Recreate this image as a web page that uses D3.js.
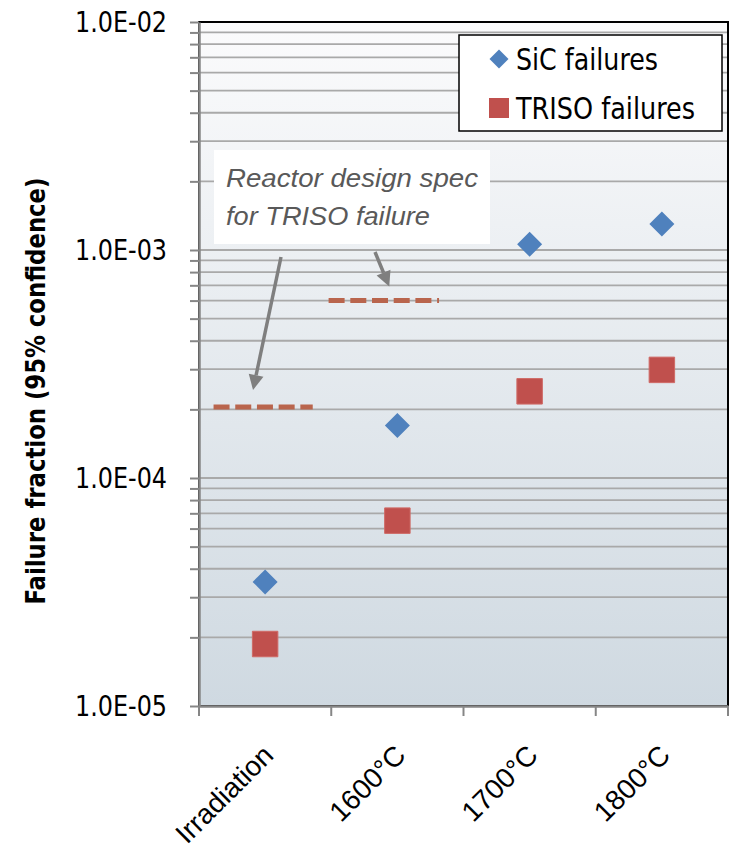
<!DOCTYPE html>
<html>
<head>
<meta charset="utf-8">
<script src="https://cdn.jsdelivr.net/npm/d3@7"></script>
<style>
  html, body { margin: 0; padding: 0; background: #fff; }
  svg { display: block; }
</style>
</head>
<body>
<svg id="chart" width="729" height="845"></svg>
<script>
// ---- data ----
const categories = ["Irradiation", "1600°C", "1700°C", "1800°C"];
const seriesNames = ["SiC failures", "TRISO failures"];
const sicValues = [3.5e-5, 1.7e-4, 1.06e-3, 1.3e-3];
const trisoValues = [1.87e-5, 6.5e-5, 2.4e-4, 2.98e-4];
const specCategories = ["Irradiation", "1600°C"];
const specValues = [2.05e-4, 6.0e-4];
const yTickValues = [1e-5, 1e-4, 1e-3, 1e-2];
const yTickLabels = ["1.0E-05", "1.0E-04", "1.0E-03", "1.0E-02"];
const yAxisTitle = "Failure fraction (95% confidence)";
const noteLines = ["Reactor design spec", "for TRISO failure"];

// ---- layout ----
const plot = { left: 199, right: 728, top: 22, bottom: 706 };
const sicColor = "#4f81bd";
const trisoColor = "#c0504d";
const specColor = "#b9654d";
const gridColor = "#a9a9a9";
const axisColor = "#868686";
const narrow = "'Liberation Sans Narrow', 'DejaVu Sans Condensed', 'Liberation Sans', sans-serif";
const regular = "'Liberation Sans', Arial, sans-serif";

const svg = d3.select("#chart");

const x = d3.scaleBand().domain(categories).range([plot.left, plot.right]).padding(0);
const y = d3.scaleLog().domain([1e-5, 1e-2]).range([plot.bottom, plot.top]);

// plot background gradient
const defs = svg.append("defs");
const grad = defs.append("linearGradient").attr("id", "bg")
  .attr("x1", 0).attr("y1", 0).attr("x2", 0).attr("y2", 1);
grad.append("stop").attr("offset", "0%").attr("stop-color", "#fbfbfc");
grad.append("stop").attr("offset", "100%").attr("stop-color", "#cfd9e1");

svg.append("rect")
  .attr("x", plot.left).attr("y", plot.top)
  .attr("width", plot.right - plot.left).attr("height", plot.bottom - plot.top)
  .attr("fill", "url(#bg)");

// gridlines at every major and minor decade step
const allTicks = y.ticks();
svg.append("g").selectAll("line")
  .data(allTicks.filter(t => t > 1e-5 && t < 1e-2))
  .join("line")
  .attr("x1", plot.left).attr("x2", plot.right)
  .attr("y1", d => y(d)).attr("y2", d => y(d))
  .attr("stroke", gridColor).attr("stroke-width", 1.8);

// plot border
svg.append("rect")
  .attr("x", plot.left).attr("y", plot.top)
  .attr("width", plot.right - plot.left).attr("height", plot.bottom - plot.top)
  .attr("fill", "none").attr("stroke", "#000").attr("stroke-width", 2);

// y axis
const majorLabel = new Map(yTickValues.map((v, i) => [v.toExponential(), yTickLabels[i]]));
const yAxis = d3.axisLeft(y)
  .tickValues(allTicks)
  .tickSize(9).tickSizeOuter(0).tickPadding(23)
  .tickFormat(d => majorLabel.get(d.toExponential()) || "");
const gy = svg.append("g").attr("transform", `translate(${plot.left},0)`).call(yAxis);
gy.select(".domain").attr("stroke", axisColor).attr("stroke-width", 2.5);
gy.selectAll(".tick line").attr("stroke", axisColor).attr("stroke-width", 2);
gy.selectAll(".tick text")
  .attr("fill", "#000")
  .style("font-family", narrow).style("font-size", "29px")
  .attr("textLength", function () { return this.textContent ? 92 : null; })
  .attr("lengthAdjust", "spacingAndGlyphs");

// x axis: line, boundary ticks and rotated category labels
const xAxis = d3.axisBottom(x).tickSize(0).tickSizeOuter(0).tickPadding(0);
const gx = svg.append("g").attr("transform", `translate(0,${plot.bottom})`).call(xAxis);
gx.select(".domain").attr("stroke", axisColor).attr("stroke-width", 2.5);
gx.selectAll(".tick text")
  .attr("fill", "#000")
  .style("font-family", regular).style("font-size", "28px")
  .attr("text-anchor", "end")
  .attr("dy", 0)
  .attr("transform", "translate(10,51) rotate(-45)");

const boundaries = categories.map(c => x(c)).concat([x.range()[1]]);
svg.append("g").selectAll("line")
  .data(boundaries).join("line")
  .attr("x1", d => d).attr("x2", d => d)
  .attr("y1", plot.bottom).attr("y2", plot.bottom + 10)
  .attr("stroke", axisColor).attr("stroke-width", 2);

// y axis title
svg.append("text")
  .attr("transform", `translate(45,${391}) rotate(-90)`)
  .attr("text-anchor", "middle")
  .style("font-family", narrow).style("font-size", "27px").style("font-weight", "bold")
  .attr("textLength", 427).attr("lengthAdjust", "spacingAndGlyphs")
  .text(yAxisTitle);

// design-spec dashed lines
const specSpan = [[0.11, 0.86], [-0.02, 0.815]];
svg.append("g").selectAll("line")
  .data(specCategories.map((c, i) => ({ c, v: specValues[i], s: specSpan[i] })))
  .join("line")
  .attr("x1", d => x(d.c) + d.s[0] * x.bandwidth())
  .attr("x2", d => x(d.c) + d.s[1] * x.bandwidth())
  .attr("y1", d => y(d.v)).attr("y2", d => y(d.v))
  .attr("stroke", specColor).attr("stroke-width", 5)
  .attr("stroke-dasharray", "16,5.7");

// annotation box, text and arrows
svg.append("rect")
  .attr("x", 214).attr("y", 150).attr("width", 276).attr("height", 94)
  .attr("fill", "#fff");
const noteWidths = [252, 204];
svg.append("g").selectAll("text")
  .data(noteLines).join("text")
  .attr("x", 226).attr("y", (d, i) => 187 + i * 38)
  .attr("fill", "#595959")
  .style("font-family", regular).style("font-size", "26px").style("font-style", "italic")
  .attr("textLength", (d, i) => noteWidths[i]).attr("lengthAdjust", "spacingAndGlyphs")
  .text(d => d);

function arrow(x1, y1, x2, y2) {
  const ang = Math.atan2(y2 - y1, x2 - x1);
  const len = 15, half = 7.5;
  const bx = x2 - len * Math.cos(ang), by = y2 - len * Math.sin(ang);
  svg.append("line")
    .attr("x1", x1).attr("y1", y1).attr("x2", bx).attr("y2", by)
    .attr("stroke", "#7f7f7f").attr("stroke-width", 3.5);
  const px = -Math.sin(ang) * half, py = Math.cos(ang) * half;
  svg.append("path")
    .attr("d", `M${x2},${y2}L${bx + px},${by + py}L${bx - px},${by - py}Z`)
    .attr("fill", "#7f7f7f");
}
arrow(281, 257, x(specCategories[0]) + 54, y(specValues[0]) - 17);
arrow(375, 252, x(specCategories[1]) + 58, y(specValues[1]) - 14);

// data markers
const cx = c => x(c) + x.bandwidth() / 2;
const diamond = d3.symbol().type(d3.symbolSquare).size(313);
const square = d3.symbol().type(d3.symbolSquare).size(650);

svg.append("g").selectAll("path")
  .data(categories.map((c, i) => ({ c, v: sicValues[i] })))
  .join("path")
  .attr("d", diamond)
  .attr("transform", d => `translate(${cx(d.c)},${y(d.v)}) rotate(45)`)
  .attr("fill", sicColor);

svg.append("g").selectAll("path")
  .data(categories.map((c, i) => ({ c, v: trisoValues[i] })))
  .join("path")
  .attr("d", square)
  .attr("transform", d => `translate(${cx(d.c)},${y(d.v)})`)
  .attr("fill", trisoColor).attr("stroke", "#cf6a66").attr("stroke-width", 1);

// legend
const lg = svg.append("g");
lg.append("rect")
  .attr("x", 459).attr("y", 35).attr("width", 263).attr("height", 96)
  .attr("fill", "#fff").attr("stroke", "#000").attr("stroke-width", 1.5);
const legendWidths = [142, 179];
const legendItems = seriesNames.map((n, i) => ({ n, i }));
lg.selectAll("path")
  .data(legendItems).join("path")
  .attr("d", d => d.i === 0 ? d3.symbol().type(d3.symbolSquare).size(180)() : d3.symbol().type(d3.symbolSquare).size(400)())
  .attr("transform", d => `translate(499,${59 + d.i * 49}) rotate(${d.i === 0 ? 45 : 0})`)
  .attr("fill", d => d.i === 0 ? sicColor : trisoColor);
lg.selectAll("text")
  .data(legendItems).join("text")
  .attr("x", 516).attr("y", d => 70 + d.i * 49)
  .style("font-family", narrow).style("font-size", "30px")
  .attr("textLength", d => legendWidths[d.i]).attr("lengthAdjust", "spacingAndGlyphs")
  .text(d => d.n);
</script>
</body>
</html>
